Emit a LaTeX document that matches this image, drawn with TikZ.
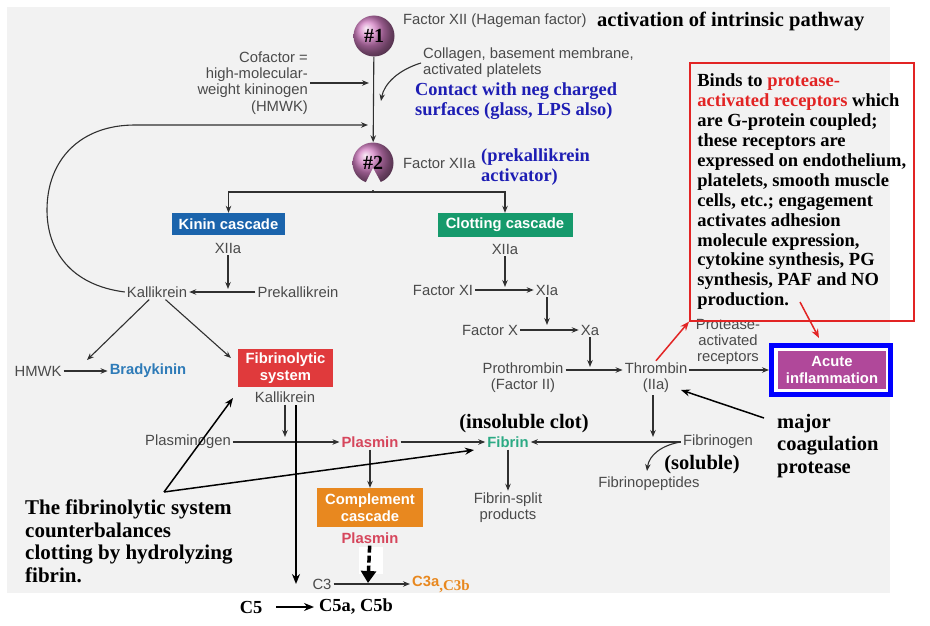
\documentclass[tikz,border=0pt]{standalone}
\usepackage{fontspec}
\setmainfont{Liberation Serif}
\setsansfont{Liberation Sans}
\usetikzlibrary{arrows.meta}
\definecolor{bggray}{HTML}{F2F2F2}
\definecolor{txtgray}{HTML}{4A4A4A}
\definecolor{arrgray}{HTML}{303030}
\definecolor{kininblue}{HTML}{1B64AC}
\definecolor{clotgreen}{HTML}{169A6C}
\definecolor{fibred}{HTML}{E03A3C}
\definecolor{comporange}{HTML}{E8881F}
\definecolor{inflpurple}{HTML}{B0489A}
\definecolor{ballpurple}{HTML}{D27EC2}
\definecolor{notered}{HTML}{E22424}
\definecolor{noteblue}{HTML}{1E1EB4}
\definecolor{plasred}{HTML}{D6465C}
\definecolor{fibgreen}{HTML}{2BAA84}
\definecolor{bradyblue}{HTML}{2E7BB8}
\tikzset{
  lbl/.style={font=\sffamily\fontsize{14.8}{16.3}\selectfont, text=txtgray, inner sep=2pt, align=center},
  lblb/.style={lbl, font=\sffamily\bfseries\fontsize{14.8}{16.3}\selectfont},
  cbox/.style={fill=#1, text=white, font=\sffamily\bfseries\fontsize{14.8}{16.5}\selectfont, align=center, inner sep=2pt},
  factorball/.style={circle, shading=ball, ball color=ballpurple, minimum size=41, inner sep=0pt, font=\bfseries\fontsize{20}{20}\selectfont},
  bignote/.style={font=\bfseries\fontsize{20.5}{22.5}\selectfont, align=left, inner sep=0pt},
  midnote/.style={font=\bfseries\fontsize{18.4}{20}\selectfont, align=left, inner sep=0pt},
  flow/.style={->, draw=arrgray, line width=1.1pt},
  pointer/.style={->, black, line width=1.5pt, >={Stealth[length=9pt,width=7pt]}},
  redptr/.style={->, notered, line width=1.5pt, >={Stealth[length=9pt,width=7pt]}},
}
\begin{document}
\begin{tikzpicture}[x=1pt, y=-1pt, >={Stealth[length=7pt,width=5.5pt]}]
\useasboundingbox (0,0) rectangle (930,626);
\fill[bggray] (7,7) rectangle (890,593);

% factor XII and its activation
\node[factorball] (f12) at (374,36) {\#1};
\node[lbl, anchor=west] (f12txt) at (401,21) {Factor XII (Hageman factor)};
\node[bignote, anchor=west] (title) at (597,21) {activation of intrinsic pathway};
\node[factorball] (f12a) at (373,163) {\#2};
\node[lbl, anchor=west] (f12atxt) at (401,163) {Factor XIIa};
\node[midnote, text=noteblue, anchor=west] (prekact) at (481,167) {(prekallikrein\\activator)};
\draw[flow] (f12) -- (f12a);

\node[lbl, align=right, anchor=east] (cof) at (310,83) {Cofactor =\\high-molecular-\\weight kininogen\\(HMWK)};
\coordinate (cofend) at (369,83);
\draw[flow] (cof) -- (cofend);
\node[lbl, align=left, anchor=west] (coll) at (421,63) {Collagen, basement membrane,\\activated platelets};
\coordinate (collend) at (381,101);
\draw[flow] (coll.west) .. controls (398,70) and (384,84) .. (collend);
\node[midnote, text=noteblue, anchor=west] (contact) at (415,101) {Contact with neg charged\\surfaces (glass, LPS also)};

% split into the two cascades
\coordinate (split) at (373,192);
\node[cbox=kininblue, minimum width=113, minimum height=22] (kinin) at (228.5,224) {Kinin cascade};
\node[cbox=clotgreen, minimum width=135, minimum height=24] (clot) at (505,225) {Clotting cascade};
\draw[arrgray, line width=1.1pt] (f12a) -- (split);
\fill[bggray] (362,190) -- (373,168) -- (385,190) -- cycle;
\draw[flow] (split) -| (kinin);
\draw[flow] (split) -| (clot);

% kinin cascade
\node[lbl] (kxiia) at (228,248) {XIIa};
\node[lbl] (kal) at (157,292) {Kallikrein};
\node[lbl] (prekal) at (298,292) {Prekallikrein};
\coordinate (kinj) at (228,289);
\draw[flow] (kxiia) -- (kinj);
\draw[flow] (prekal) -- (kal);
\coordinate (loopend) at (368,125);
\draw[flow] (kal.west) .. controls (70,285) and (47,250) .. (47,210)
  .. controls (47,160) and (80,125) .. (135,125) -- (loopend);
\node[lbl] (hmwk) at (38,371) {HMWK};
\node[lblb, text=bradyblue] (brady) at (148,371) {Bradykinin};
\draw[flow] (hmwk) -- (brady);
\node[cbox=fibred, minimum width=95, minimum height=38] (fib) at (285.5,368) {Fibrinolytic\\system};
\coordinate (bradyin) at (87,360);
\coordinate (fibin) at (231,358);
\draw[flow] (kal) -- (bradyin);
\draw[flow] (kal) -- (fibin);

% fibrinolytic system
\node[lbl] (fibkal) at (285,397) {Kallikrein};
\node[lbl] (plgn) at (188,442) {Plasminogen};
\node[lblb, text=plasred] (plas) at (370,442) {Plasmin};
\coordinate (plgnj) at (285,437);
\draw[flow] (fibkal) -- (plgnj);
\draw[flow] (plgn) -- (plas);
\node[lblb, text=fibgreen] (fibrin) at (508,442) {Fibrin};
\node[bignote] (insol) at (524,424) {(insoluble clot)};
\draw[flow] (plas) -- (fibrin);
\node[lbl] (fsp) at (508,508) {Fibrin-split\\products};
\draw[flow] (fibrin) -- (fsp);
\node[cbox=comporange, minimum width=106, minimum height=39] (comp) at (370,507.5) {Complement\\cascade};
\draw[flow] (plas) -- (comp);
\node[lblb, text=plasred] (plas2) at (370,538) {Plasmin};
\fill[white] (359,547) rectangle (383,574);
\coordinate (c3in) at (368,583);
\draw[line width=3.5pt, dash pattern=on 7pt off 3pt, -{Triangle[length=12pt,width=15pt]}] (plas2) -- (c3in);
\node[lbl] (c3) at (322,584) {C3};
\node[text=comporange, anchor=west, inner sep=2pt] (c3ab) at (410,584)
  {{\sffamily\bfseries\fontsize{14.8}{16}\selectfont C3a}\raisebox{-4pt}{\bfseries\fontsize{15}{16}\selectfont ,C3b}};
\draw[flow] (c3) -- (c3ab);
\coordinate (kc5top) at (296,405);
\coordinate (kc5end) at (296,584);
\draw[->, black, line width=2pt, >={Stealth[length=10pt,width=8pt]}] (kc5top) -- (kc5end);
\node[midnote] (c5) at (251,607) {C5};
\node[midnote, anchor=west] (c5ab) at (319,607) {C5a, C5b};
\draw[->, black, line width=1.8pt, >={Stealth[length=10pt,width=8pt]}, shorten <=14pt, shorten >=5pt] (c5) -- (c5ab);

\node[bignote, font=\bfseries\fontsize{21}{22.5}\selectfont, anchor=north west] (annot) at (25,500)
  {The fibrinolytic system\\counterbalances\\clotting by hydrolyzing\\fibrin.};
\coordinate (apex) at (164,492);
\coordinate (fibup) at (233,398);
\coordinate (fibrinin) at (474,450);
\draw[pointer] (apex) -- (fibup);
\draw[pointer] (apex) -- (fibrinin);

% clotting cascade
\node[lbl] (cxiia) at (505,249) {XIIa};
\node[lbl] (f11) at (443,290) {Factor XI};
\node[lbl] (xia) at (547,290) {XIa};
\node[lbl] (f10) at (490,330) {Factor X};
\node[lbl] (xa) at (590,330) {Xa};
\node[lbl] (proth) at (523,378) {Prothrombin\\(Factor II)};
\node[lbl] (thr) at (656,378) {Thrombin\\(IIa)};
\coordinate (cj1) at (505,287);
\coordinate (cj2) at (547,325);
\coordinate (cj3) at (590,367);
\draw[flow] (cxiia) -- (cj1);
\draw[flow] (f11) -- (xia);
\draw[flow] (xia) -- (cj2);
\draw[flow] (f10) -- (xa);
\draw[flow] (xa) -- (cj3);
\draw[flow] ([yshift=8pt]proth.east) -- ([yshift=8pt]thr.west);

\node[lbl] (fbgn) at (718,442) {Fibrinogen};
\node[lbl] (fpep) at (649,484) {Fibrinopeptides};
\node[bignote] (sol) at (702,465) {(soluble)};
\coordinate (thrj) at (653,437);
\coordinate (fpepin) at (647,471);
\draw[flow] (thr.south -| thrj) -- (thrj);
\draw[flow] (fbgn) -- (fibrin);
\draw[flow] (fbgn.west) .. controls (662,445) and (649,455) .. (fpepin);

% thrombin and inflammation
\node[lbl] (par) at (728,342) {Protease-\\activated\\receptors};
\node[draw=blue, line width=5pt, fill=white, minimum width=119, minimum height=49, inner sep=0pt] (infl) at (831,370) {};
\node[cbox=inflpurple, minimum width=108, minimum height=38] (inflin) at (832,370) {Acute\\inflammation};
\draw[flow] ([yshift=8pt]thr.east) -- (infl);

\node[font=\bfseries\fontsize{18.5}{19.9}\selectfont, align=left, draw=notered, line width=1.6pt,
  anchor=north west, inner xsep=7pt, minimum width=224, minimum height=258] (parnote) at (689,62)
  {Binds to \textcolor{notered}{protease-}\\
   \textcolor{notered}{activated receptors} which\\
   are G-protein coupled;\\
   these receptors are\\
   expressed on endothelium,\\
   platelets, smooth muscle\\
   cells, etc.; engagement\\
   activates adhesion\\
   molecule expression,\\
   cytokine synthesis, PG\\
   synthesis, PAF and NO\\
   production.};
\coordinate (prodpt) at (800,302);
\coordinate (inflhit) at (819,338);
\draw[redptr] (thr.north) -- (parnote.south west);
\draw[redptr] (prodpt) -- (inflhit);

\node[bignote, anchor=north west] (major) at (777,414) {major\\coagulation\\protease};
\coordinate (majorpt) at (764,418);
\coordinate (thrhit) at (681,390);
\draw[pointer] (majorpt) -- (thrhit);
\end{tikzpicture}
\end{document}
